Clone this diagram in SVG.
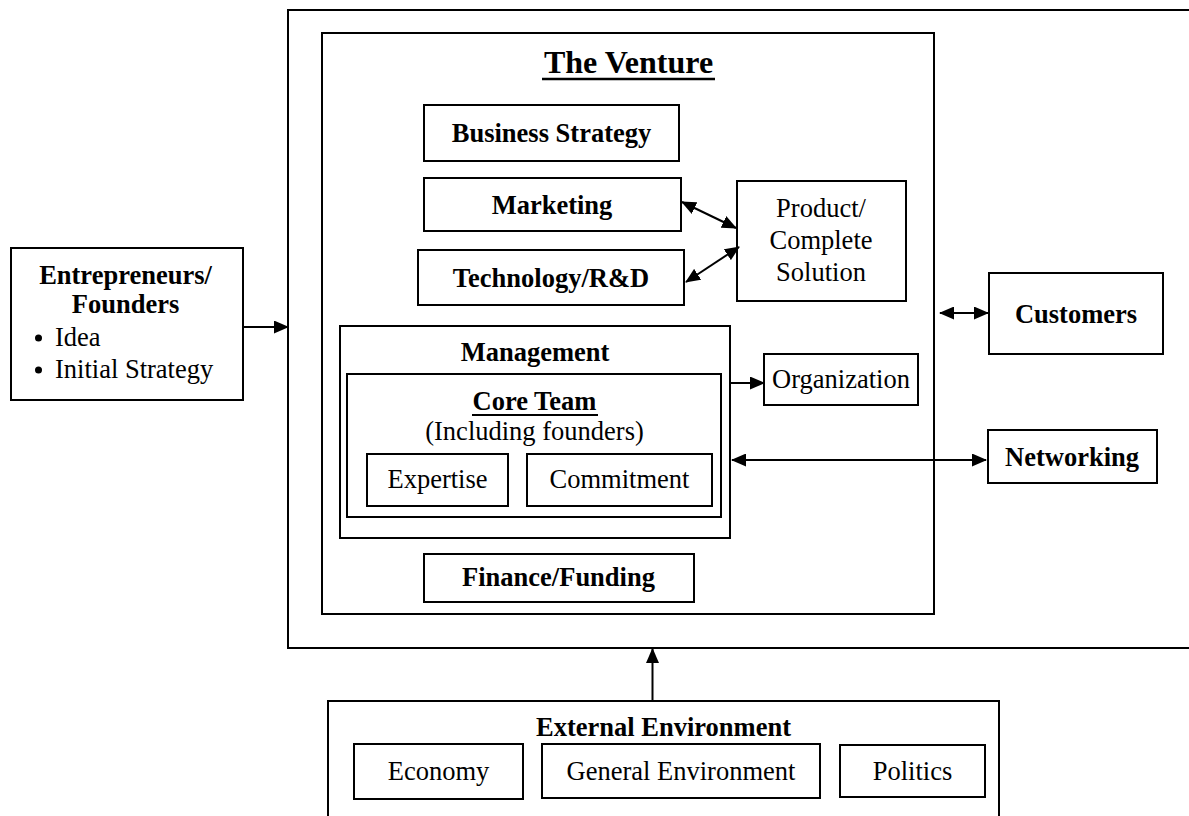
<svg xmlns="http://www.w3.org/2000/svg" width="1189" height="816" viewBox="0 0 1189 816">
  <defs>
    <style>
      .box { fill: #fff; stroke: #000; stroke-width: 2; }
      .frame { fill: none; stroke: #000; stroke-width: 2; }
      .link { fill: none; stroke: #000; stroke-width: 2; }
      .b { font-family: "Liberation Serif", "Times New Roman", serif; font-weight: bold; font-size: 26.5px; fill: #000; text-anchor: middle; }
      .r { font-family: "Liberation Serif", "Times New Roman", serif; font-size: 26.5px; fill: #000; text-anchor: middle; }
      .item { font-family: "Liberation Serif", "Times New Roman", serif; font-size: 26.5px; fill: #000; text-anchor: start; }
      .title { font-family: "Liberation Serif", "Times New Roman", serif; font-weight: bold; font-size: 32px; fill: #000; text-anchor: middle; }
    </style>
    <marker id="head" viewBox="0 0 15 13" refX="14" refY="6.5" markerWidth="15" markerHeight="13" markerUnits="userSpaceOnUse" orient="auto-start-reverse">
      <path d="M0,0 L15,6.5 L0,13 Z" fill="#000"/>
    </marker>
  </defs>

  <rect width="1189" height="816" fill="#fff"/>

  <!-- outer boundary, open to the right -->
  <path class="frame" d="M1195,10 H288 V648 H1195"/>

  <!-- the venture frame -->
  <g id="venture">
    <rect class="frame" x="322" y="33" width="612" height="581"/>
    <text class="title" x="628.5" y="73">The Venture</text>
    <line x1="542" y1="79" x2="715" y2="79" stroke="#000" stroke-width="2.5"/>
  </g>

  <g id="business-strategy">
    <rect class="box" x="424" y="105" width="255" height="56"/>
    <text class="b" x="551.5" y="142">Business Strategy</text>
  </g>

  <g id="marketing">
    <rect class="box" x="424" y="178" width="257" height="53"/>
    <text class="b" x="552" y="214">Marketing</text>
  </g>

  <g id="technology">
    <rect class="box" x="418" y="250" width="266" height="55"/>
    <text class="b" x="551" y="287">Technology/R&amp;D</text>
  </g>

  <g id="product">
    <rect class="box" x="737" y="181" width="169" height="120"/>
    <text class="r" x="821" y="217">Product/</text>
    <text class="r" x="821" y="249">Complete</text>
    <text class="r" x="821" y="281">Solution</text>
  </g>

  <g id="management">
    <rect class="box" x="340" y="326" width="390" height="212"/>
    <text class="b" x="535" y="361">Management</text>
  </g>

  <g id="core-team">
    <rect class="box" x="347" y="374" width="374" height="143"/>
    <text class="b" x="534.5" y="410">Core Team</text>
    <line x1="472" y1="415" x2="598" y2="415" stroke="#000" stroke-width="2"/>
    <text class="r" x="534.5" y="440">(Including founders)</text>
  </g>

  <g id="expertise">
    <rect class="box" x="367" y="454" width="141" height="52"/>
    <text class="r" x="437.5" y="488">Expertise</text>
  </g>

  <g id="commitment">
    <rect class="box" x="527" y="454" width="185" height="52"/>
    <text class="r" x="619.5" y="488">Commitment</text>
  </g>

  <g id="finance">
    <rect class="box" x="424" y="554" width="270" height="48"/>
    <text class="b" x="558.5" y="586">Finance/Funding</text>
  </g>

  <g id="organization">
    <rect class="box" x="764" y="354" width="154" height="51"/>
    <text class="r" x="841" y="388">Organization</text>
  </g>

  <g id="entrepreneurs">
    <rect class="box" x="11" y="248" width="232" height="152"/>
    <text class="b" x="125.5" y="284">Entrepreneurs/</text>
    <text class="b" x="125.5" y="313">Founders</text>
    <circle cx="38.5" cy="338" r="3.5" fill="#000"/>
    <text class="item" x="55" y="346">Idea</text>
    <circle cx="38.5" cy="370" r="3.5" fill="#000"/>
    <text class="item" x="55" y="378">Initial Strategy</text>
  </g>

  <g id="customers">
    <rect class="box" x="989" y="273" width="174" height="81"/>
    <text class="b" x="1076" y="323">Customers</text>
  </g>

  <g id="networking">
    <rect class="box" x="988" y="430" width="169" height="53"/>
    <text class="b" x="1072" y="466">Networking</text>
  </g>

  <g id="external-environment">
    <rect class="box" x="328" y="701" width="671" height="120"/>
    <text class="b" x="663.5" y="736">External Environment</text>
  </g>

  <g id="economy">
    <rect class="box" x="354" y="744" width="169" height="55"/>
    <text class="r" x="438.5" y="780">Economy</text>
  </g>

  <g id="general-environment">
    <rect class="box" x="542" y="744" width="278" height="54"/>
    <text class="r" x="681" y="780">General Environment</text>
  </g>

  <g id="politics">
    <rect class="box" x="840" y="745" width="145" height="52"/>
    <text class="r" x="912.5" y="780">Politics</text>
  </g>

  <!-- connectors -->
  <g id="connectors">
    <line class="link" x1="243" y1="327" x2="288" y2="327" marker-end="url(#head)"/>
    <line class="link" x1="682" y1="202" x2="736" y2="228" marker-start="url(#head)" marker-end="url(#head)"/>
    <line class="link" x1="686" y1="282" x2="739" y2="247" marker-start="url(#head)" marker-end="url(#head)"/>
    <line class="link" x1="940" y1="313" x2="988" y2="313" marker-start="url(#head)" marker-end="url(#head)"/>
    <line class="link" x1="731" y1="383" x2="764" y2="383" marker-end="url(#head)"/>
    <line class="link" x1="732" y1="460" x2="986" y2="460" marker-start="url(#head)" marker-end="url(#head)"/>
    <line class="link" x1="652.5" y1="701" x2="652.5" y2="649" stroke-width="3" marker-end="url(#head)"/>
  </g>
</svg>
